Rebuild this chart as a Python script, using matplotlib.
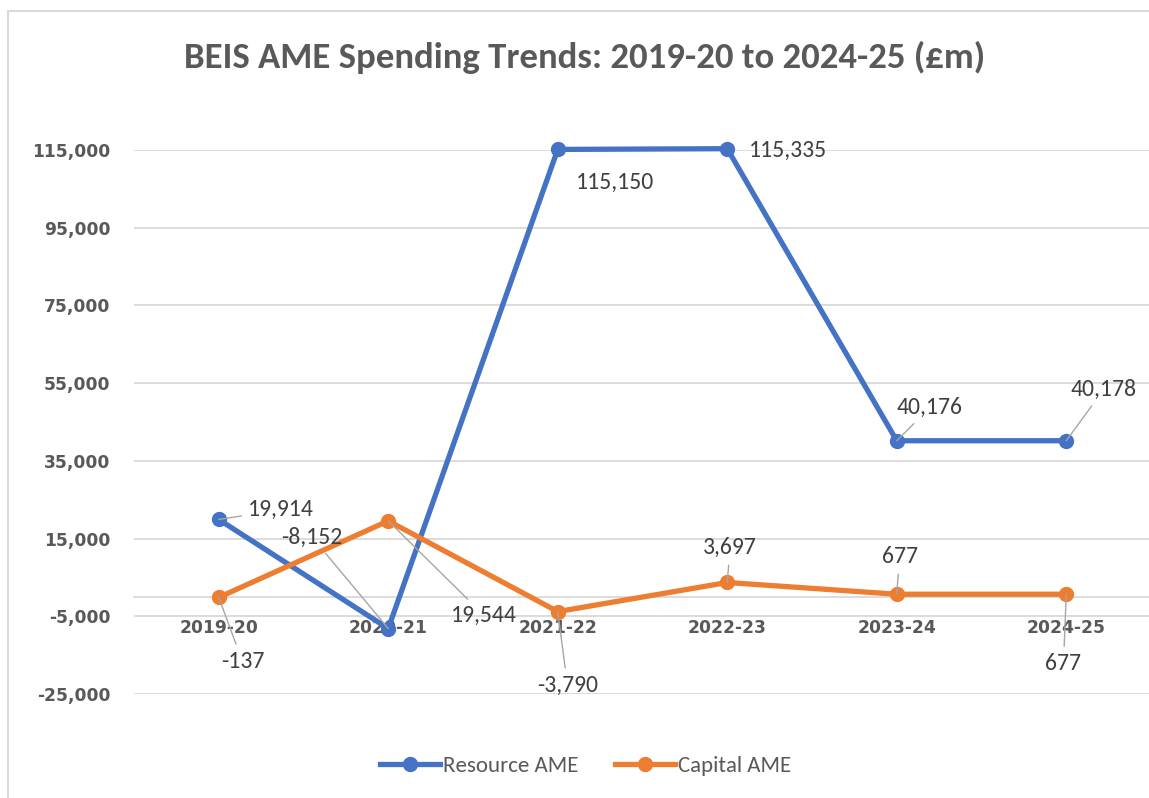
import matplotlib
matplotlib.use('Agg')
import matplotlib.pyplot as plt
from matplotlib import font_manager
from matplotlib.patches import Rectangle
from matplotlib.lines import Line2D

# pick a calibri-like font if there is one
names = {f.name for f in font_manager.fontManager.ttflist}
font = next((n for n in ['Carlito', 'Liberation Sans Narrow', 'Open Sans', 'Liberation Sans'] if n in names), 'DejaVu Sans')
plt.rcParams['font.family'] = [font, 'DejaVu Sans']

# data
years = ['2019-20', '2020-21', '2021-22', '2022-23', '2023-24', '2024-25']
resource_ame = [19914, -8152, 115150, 115335, 40176, 40178]
capital_ame = [-137, 19544, -3790, 3697, 677, 677]

# label offsets in points (dx, dy) from each point, and whether a leader line is drawn
resource_offsets = [(45, 7), (-55, 66), (41, -24), (44, -1), (24, 24), (27, 37)]
resource_leaders = [True, True, False, False, True, True]
capital_offsets = [(17, -46), (69, -68), (7, -53), (2, 25), (2, 27), (-2, -50)]
capital_leaders = [True, True, True, True, True, True]

blue = '#4472C4'
orange = '#ED7D31'
grey_txt = '#595959'
lbl_txt = '#404040'

fig = plt.figure(figsize=(11.49, 7.98), dpi=100)
fig.patches.append(Rectangle((8 / 1149, -0.1), 1.2, (798 - 11) / 798 + 0.1,
                             transform=fig.transFigure, fill=False,
                             edgecolor='#D9D9D9', lw=1.5))
ax = fig.add_axes([134 / 1149, 1 - 694 / 798, (1151 - 134) / 1149, (694 - 150) / 798])

x = list(range(len(years)))
ax.plot(x, resource_ame, color=blue, lw=3.8, marker='o', ms=10, label='Resource AME', zorder=3, clip_on=False)
ax.plot(x, capital_ame, color=orange, lw=3.8, marker='o', ms=10, label='Capital AME', zorder=3, clip_on=False)

ax.set_xlim(-0.5, len(years) - 0.5)
ax.set_ylim(-25000, 115000)
ax.set_yticks(range(-25000, 115001, 20000))
ax.yaxis.set_major_formatter(matplotlib.ticker.FuncFormatter(lambda v, p: f'{int(v):,}'))
ax.grid(axis='y', color='#D9D9D9', lw=1.3)
ax.set_axisbelow(True)
for s in ['top', 'right', 'left']:
    ax.spines[s].set_visible(False)
ax.spines['bottom'].set_position(('data', 0))
ax.spines['bottom'].set_color('#D9D9D9')
ax.spines['bottom'].set_linewidth(1.3)
ax.set_xticks(x)
ax.set_xticklabels(years)
ax.tick_params(axis='both', length=0, labelsize=12.3, labelcolor=grey_txt)
ax.tick_params(axis='y', pad=17)
ax.tick_params(axis='x', pad=16)
for t in ax.get_xticklabels() + ax.get_yticklabels():
    t.set_fontweight('bold')
    t.set_family(['DejaVu Sans'])

def add_labels(vals, offs, leaders):
    for i, (v, o, lead) in enumerate(zip(vals, offs, leaders)):
        arrow = dict(arrowstyle='-', color='#A6A6A6', lw=1, shrinkA=3, shrinkB=0) if lead else None
        ax.annotate(f'{v:,}', (i, v), xytext=o, textcoords='offset points',
                    ha='center', va='center', fontsize=17, color=lbl_txt,
                    annotation_clip=False, arrowprops=arrow, zorder=4)

add_labels(resource_ame, resource_offsets, resource_leaders)
add_labels(capital_ame, capital_offsets, capital_leaders)

fig.text(0.509, 1 - 57 / 798, 'BEIS AME Spending Trends: 2019-20 to 2024-25 (£m)',
         ha='center', va='center', fontsize=26.5, fontweight='bold', color=grey_txt)

handles = [Line2D([], [], color=blue, lw=3.8, marker='o', ms=10),
           Line2D([], [], color=orange, lw=3.8, marker='o', ms=10)]
fig.legend(handles, ['Resource AME', 'Capital AME'], loc='center',
           bbox_to_anchor=(0.51, 1 - 766 / 798), ncol=2, frameon=False,
           fontsize=16.5, labelcolor=grey_txt, handlelength=2.6,
           handletextpad=0.15, columnspacing=1.6)

fig.savefig('out.png', dpi=100)
